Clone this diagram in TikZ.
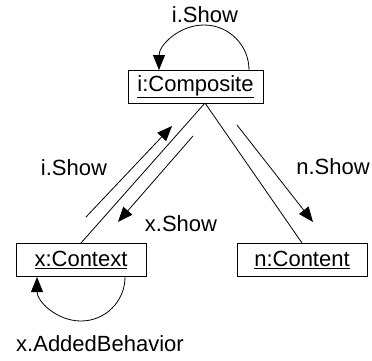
\documentclass[tikz,border=0pt]{standalone}
\usepackage{fontspec}
\setmainfont{Liberation Sans}
\usetikzlibrary{arrows.meta,calc}
\begin{document}
\begin{tikzpicture}[x=1pt,y=-1pt,
  obj/.style={draw,line width=1pt,minimum height=33pt,inner sep=0pt,font=\fontsize{22}{24}\selectfont},
  lbl/.style={inner sep=0pt,font=\fontsize{22}{24}\selectfont},
  link/.style={line width=0.8pt},
  msg/.style={line width=0.8pt,-{Triangle[length=15pt,width=12pt]}}]
\useasboundingbox (0,0) rectangle (372,360);
\node[obj,minimum width=135pt] (comp) at (195.5,87) {\underline{i:Composite}};
\node[obj,minimum width=130pt] (ctx) at (81,260) {\underline{x:Context}};
\node[obj,minimum width=130pt] (cont) at (302,260) {\underline{n:Content}};
\coordinate (apex) at (205,103);
\draw[link] (apex) -- (ctx.north);
\draw[link] (apex) -- (cont.north);
% self loops
\draw[msg] ($(comp.north)+(53.5,0)$) arc[start angle=0,end angle=-180,radius=45];
\draw[msg] ($(ctx.south)+(44,0)$) arc[start angle=0,end angle=180,radius=44];
% parallel messages
\coordinate (a1) at (86,217); \coordinate (a2) at (172,126);
\coordinate (b1) at (193,136); \coordinate (b2) at (118,222);
\coordinate (c1) at (237,125); \coordinate (c2) at (313,222);
\draw[msg] (a1) -- (a2);
\draw[msg] (b1) -- (b2);
\draw[msg] (c1) -- (c2);
% labels
\node[lbl] (l1) at (205,15) {i.Show};
\node[lbl] (l2) at (74,168) {i.Show};
\node[lbl] (l3) at (181,224) {x.Show};
\node[lbl] (l4) at (333,167) {n.Show};
\node[lbl] (l5) at (100,344) {x.AddedBehavior};
\end{tikzpicture}
\end{document}
